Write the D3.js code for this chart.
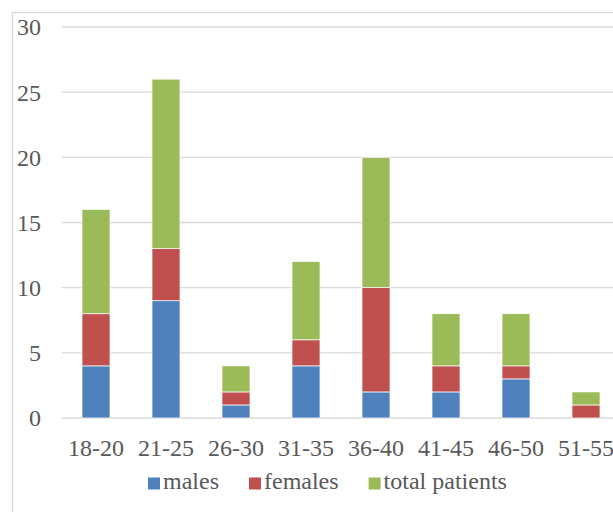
<!DOCTYPE html>
<html><head><meta charset="utf-8">
<script src="https://cdn.jsdelivr.net/npm/d3@7"></script>
</head><body style="margin:0;background:#fff">
<svg id="c" width="613" height="512" style="display:block"></svg>
<script>
const categories = ["18-20","21-25","26-30","31-35","36-40","41-45","46-50","51-55"];
const males = [4,9,1,4,2,2,3,0];
const females = [4,4,1,2,8,2,1,1];
const totalPatients = [8,13,2,6,10,4,4,1];
const seriesNames = ["males","females","total patients"];
const colors = ["#4F81BD","#C0504D","#9BBB59"];
const yTicks = [0,5,10,15,20,25,30];
const textColor = "#595959";
const TSTYLE = "font-family: 'Liberation Serif', 'Times New Roman', Tinos, serif !important; font-size: 24px;";

const svg = d3.select("#c");
svg.append("rect").attr("x",12.5).attr("y",12.5).attr("width",720).attr("height",620)
  .attr("fill","#fff").attr("stroke","#d9d9d9").attr("stroke-width",1.3);

const x = d3.scaleBand().domain(categories).range([61,621]).paddingInner(0.6).paddingOuter(0.3);
const y = d3.scaleLinear().domain([0,30]).range([418,27]);

svg.append("g").selectAll("line").data(yTicks).join("line")
  .attr("x1",62).attr("x2",640).attr("y1",d=>y(d)).attr("y2",d=>y(d))
  .attr("stroke","#d9d9d9").attr("stroke-width",1.3);

const rows = categories.map((c,i)=>({cat:c,males:males[i],females:females[i],"total patients":totalPatients[i]}));
const stack = d3.stack().keys(seriesNames)(rows);
svg.append("g").selectAll("g").data(stack).join("g").attr("fill",(d,i)=>colors[i])
  .selectAll("rect").data(d=>d).join("rect")
  .attr("x",d=>x(d.data.cat)).attr("width",x.bandwidth())
  .attr("y",d=>y(d[1])).attr("height",d=>y(d[0])-y(d[1]))
  .attr("stroke","#fff").attr("stroke-width",0.7);

svg.append("g").selectAll("text").data(yTicks).join("text")
  .attr("x",41).attr("y",d=>y(d)).attr("dy","0.35em").attr("text-anchor","end")
  .attr("style",TSTYLE).attr("fill",textColor).text(d=>d);
svg.append("g").selectAll("text").data(categories).join("text")
  .attr("x",d=>x(d)+x.bandwidth()/2).attr("y",456).attr("text-anchor","middle")
  .attr("style",TSTYLE).attr("fill",textColor).text(d=>d);

const lg = svg.append("g");
let lx = 148;
seriesNames.forEach((n,i)=>{
  lg.append("rect").attr("x",lx).attr("y",477.5).attr("width",12).attr("height",12).attr("fill",colors[i]);
  const t = lg.append("text").attr("x",lx+15).attr("y",489)
    .attr("style",TSTYLE).attr("fill",textColor).text(n);
  lx = lx + 15 + t.node().getComputedTextLength() + 30;
});
</script>
</body></html>
